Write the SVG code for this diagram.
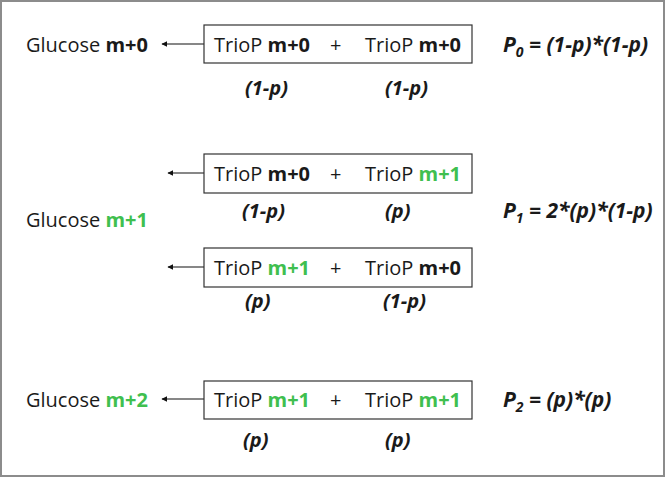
<svg xmlns="http://www.w3.org/2000/svg" width="666" height="478" viewBox="0 0 666 478">
<style>
text{font-family:"Open Sans","Noto Sans",sans-serif;font-size:20px;fill:#1a1a1a}
.b{font-weight:bold}
.g{fill:#3fbf4f;font-weight:bold}
.it{font-style:italic;font-weight:bold}
.f{font-size:21px}
.box{fill:#fff;stroke:#333;stroke-width:1.2}
.conn{stroke:#111;stroke-width:1.2;fill:none;marker-end:url(#ah)}
</style>
<defs>
<marker id="ah" viewBox="0 0 10 10" refX="9" refY="5" markerWidth="6" markerHeight="6" markerUnits="userSpaceOnUse" orient="auto">
<path d="M0,0 L10,5 L0,10 z" fill="#111"/>
</marker>
</defs>
<rect x="1" y="1" width="663" height="475" fill="#fff" stroke="#8c8c8c" stroke-width="2"/>
<g id="connectors">
<line class="conn" x1="204" y1="44" x2="162" y2="44"/>
<line class="conn" x1="204" y1="173" x2="168" y2="173"/>
<line class="conn" x1="204" y1="267" x2="168" y2="267"/>
<line class="conn" x1="204" y1="399" x2="162" y2="399"/>
</g>
<g id="glucose0"><text x="26" y="52">Glucose <tspan class="b">m+0</tspan></text></g>
<g id="glucose1"><text x="26" y="227">Glucose <tspan class="g">m+1</tspan></text></g>
<g id="glucose2"><text x="26" y="407">Glucose <tspan class="g">m+2</tspan></text></g>
<g id="pair1">
<rect class="box" x="204" y="25" width="268" height="38"/>
<text x="214" y="52">TrioP <tspan class="b">m+0</tspan></text>
<text x="330" y="52">+</text>
<text x="365" y="52">TrioP <tspan class="b">m+0</tspan></text>
<text class="it" x="245" y="95">(1-p)</text>
<text class="it" x="385" y="95">(1-p)</text>
</g>
<g id="pair2">
<rect class="box" x="204" y="154" width="268" height="39"/>
<text x="214" y="181">TrioP <tspan class="b">m+0</tspan></text>
<text x="330" y="181">+</text>
<text x="365" y="181">TrioP <tspan class="g">m+1</tspan></text>
<text class="it" x="242" y="218">(1-p)</text>
<text class="it" x="385" y="218">(p)</text>
</g>
<g id="pair3">
<rect class="box" x="204" y="248" width="268" height="39"/>
<text x="214" y="275">TrioP <tspan class="g">m+1</tspan></text>
<text x="330" y="275">+</text>
<text x="365" y="275">TrioP <tspan class="b">m+0</tspan></text>
<text class="it" x="245" y="308">(p)</text>
<text class="it" x="383" y="308">(1-p)</text>
</g>
<g id="pair4">
<rect class="box" x="204" y="381" width="268" height="38"/>
<text x="214" y="407">TrioP <tspan class="g">m+1</tspan></text>
<text x="330" y="407">+</text>
<text x="365" y="407">TrioP <tspan class="g">m+1</tspan></text>
<text class="it" x="243" y="447">(p)</text>
<text class="it" x="385" y="447">(p)</text>
</g>
<g id="formulas">
<text class="it f" x="503" y="52">P<tspan font-size="14" dy="5">0</tspan><tspan dy="-5"> = (1-p)*(1-p)</tspan></text>
<text class="it f" x="503" y="218">P<tspan font-size="14" dy="5">1</tspan><tspan dy="-5"> = 2*(p)*(1-p)</tspan></text>
<text class="it f" x="503" y="407">P<tspan font-size="14" dy="5">2</tspan><tspan dy="-5"> = (p)*(p)</tspan></text>
</g>
</svg>
